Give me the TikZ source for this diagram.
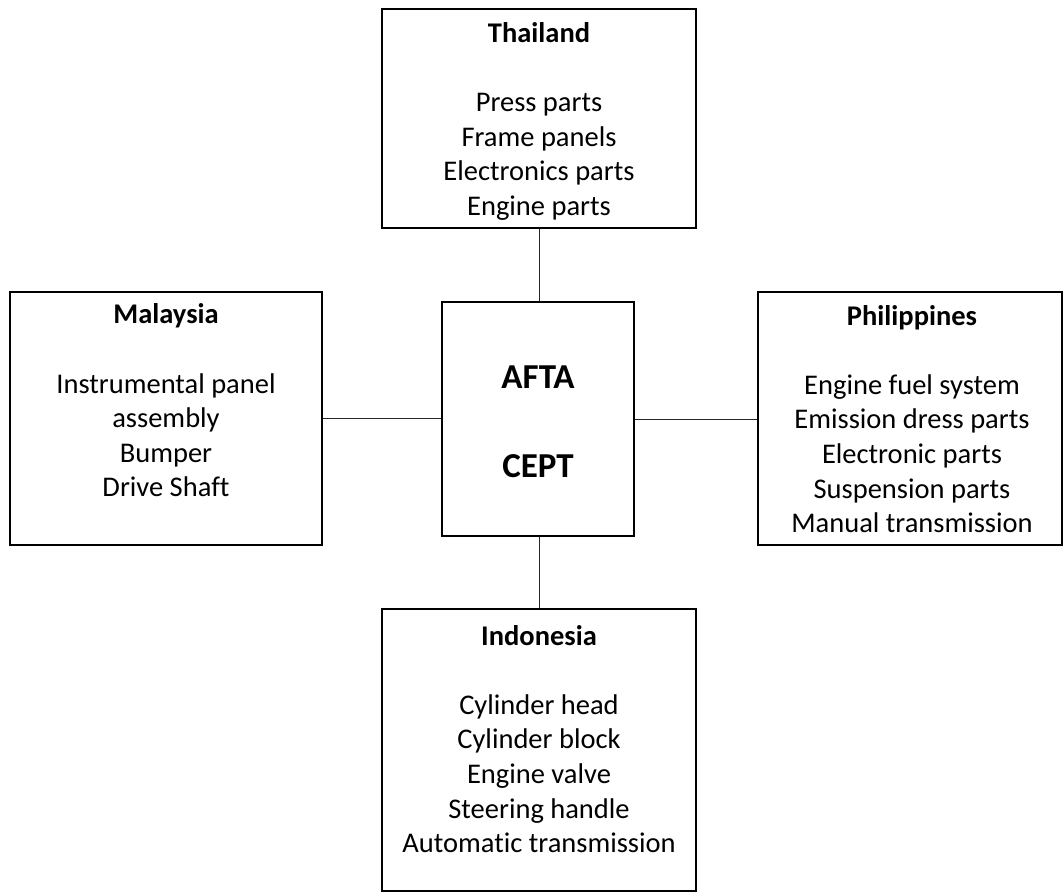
\documentclass[tikz,border=0pt]{standalone}
\usepackage{fontspec}
\setmainfont[Ligatures={NoCommon}]{Carlito}
\begin{document}
\begin{tikzpicture}[x=1pt,y=-1pt,
  box/.style={draw=black,line width=1.3pt,inner sep=0pt},
  txt/.style={align=center,inner sep=0pt,font=\fontsize{28.5}{34.6}\selectfont},
  big/.style={align=center,inner sep=0pt,font=\fontsize{35}{44.5}\selectfont\bfseries},
  link/.style={draw=black!85,line width=1pt}]
\useasboundingbox (0,0) rectangle (1064,894);
% boxes
\node[box,minimum width=314pt,minimum height=219pt] (thai) at (539,118.5) {};
\node[box,minimum width=312pt,minimum height=253pt] (mal) at (166,418.5) {};
\node[box,minimum width=192pt,minimum height=234pt] (ctr) at (538,419) {};
\node[box,minimum width=304pt,minimum height=253pt] (phi) at (910,418.5) {};
\node[box,minimum width=314pt,minimum height=282pt] (ind) at (539,750) {};
% texts
\node[txt] (thaitxt) at (539,121.5) {\textbf{Thailand}\\[34.6pt]Press parts\\Frame panels\\Electronics parts\\Engine parts};
\node[txt] (maltxt) at (166,400.5) {\textbf{Malaysia}\\[34.6pt]Instrumental panel\\assembly\\Bumper\\Drive Shaft};
\node[big] (ctrtxt) at (538,421.5) {AFTA\\[44.5pt]CEPT};
\node[txt] (phitxt) at (912,419) {\textbf{Philippines}\\[34.6pt]Engine fuel system\\Emission dress parts\\Electronic parts\\Suspension parts\\Manual transmission};
\node[txt] (indtxt) at (539,739) {\textbf{Indonesia}\\[34.6pt]Cylinder head\\Cylinder block\\Engine valve\\Steering handle\\Automatic transmission};
% connectors
\draw[link] (thai.south) -- (thai.south |- ctr.north);
\draw[link] (mal.east) -- (ctr.west |- mal.east);
\draw[link] (ctr.east) -- (phi.west |- ctr.east);
\draw[link] (ind.north |- ctr.south) -- (ind.north);
\end{tikzpicture}
\end{document}
